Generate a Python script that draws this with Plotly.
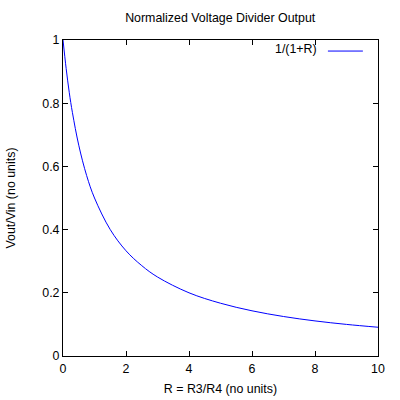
import plotly.graph_objects as go

# Values
r_values = [0, 0.1, 0.2, 0.3, 0.5, 0.75, 1, 1.5, 2, 2.5, 3, 4, 5, 6, 7, 8, 9, 10]
vout_values = [1.0, 0.91, 0.833, 0.77, 0.667, 0.571, 0.5, 0.4, 0.333, 0.286, 0.25,
               0.2, 0.167, 0.143, 0.125, 0.111, 0.1, 0.091]
x_ticks = [0, 2, 4, 6, 8, 10]
y_ticks = [0, 0.2, 0.4, 0.6, 0.8, 1]
y_tick_labels = ["0", "0.2", "0.4", "0.6", "0.8", "1"]
series_name = "1/(1+R)"

FONT = "Liberation Sans, Arial, sans-serif"
FS = 12.4

fig = go.Figure()
fig.add_trace(go.Scatter(
    x=r_values, y=vout_values, mode="lines", name=series_name,
    line=dict(color="#0000ff", width=1, shape="spline"),
    showlegend=False,
))

axis_common = dict(
    showline=True, linecolor="black", linewidth=1, mirror="ticks",
    ticks="inside", ticklen=5, tickcolor="black", tickwidth=1,
    showgrid=False, zeroline=False, automargin=False,
    tickfont=dict(family=FONT, size=FS, color="black"),
)

fig.update_layout(
    width=400, height=400,
    margin=dict(l=63, r=22, t=40, b=44),
    paper_bgcolor="white", plot_bgcolor="white",
    font=dict(family=FONT, size=FS, color="black"),
    title=dict(text="Normalized Voltage Divider Output", x=0.5505, xanchor="center",
               y=1 - 18 / 400, yanchor="middle",
               font=dict(family=FONT, size=FS, color="black")),
    xaxis=dict(range=[0, 10], tickvals=x_ticks, ticklabelstandoff=1,
               title=dict(text="R = R3/R4 (no units)", standoff=9,
                          font=dict(family=FONT, size=FS)),
               **axis_common),
    yaxis=dict(range=[0, 1], tickvals=y_ticks, ticktext=y_tick_labels,
               title=dict(text="Vout/Vin (no units)", standoff=23,
                          font=dict(family=FONT, size=FS)),
               **axis_common),
    showlegend=False,
)

# gnuplot-style key: text then line sample
fig.add_annotation(xref="paper", yref="paper", x=0.8127, y=0.972,
                   xanchor="right", yanchor="middle", showarrow=False,
                   text=series_name, font=dict(family=FONT, size=FS, color="black"))
fig.add_shape(type="line", xref="paper", yref="paper",
              x0=0.841, x1=0.952, y0=0.965, y1=0.965,
              line=dict(color="#0000ff", width=1))

fig.write_html("out.html")
